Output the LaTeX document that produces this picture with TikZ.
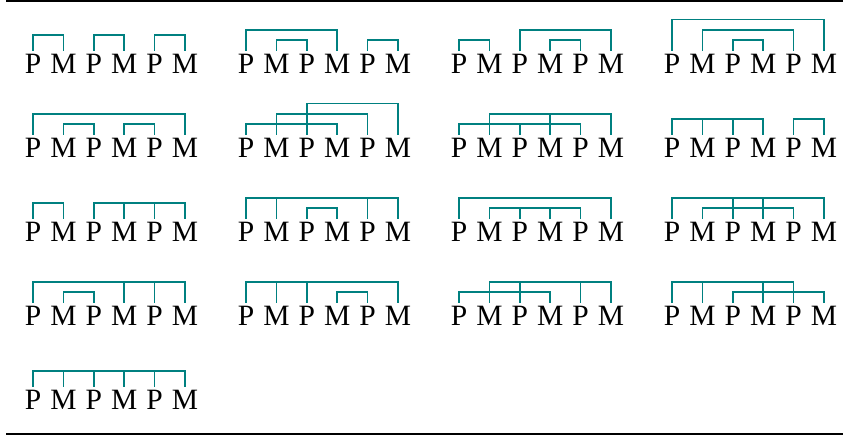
\documentclass[tikz,border=0pt]{standalone}
\usepackage{fontspec}
\setmainfont{Liberation Serif}
\newcommand\pmgroup[3]{%
  \foreach \i/\l in {1/P,2/M,3/P,4/M,5/P,6/M}{%
    \node[letter] (#1-\i) at ({#2+(\i-1)*30.4},#3) {\l};
    \coordinate (#1-t\i) at ({#2+(\i-1)*30.4},{#3+23.4});
  }}
\newcommand\pmbrk[4]{% group, height, first, last
  \draw[br] (#1-t#3) -- ++(0,#2) -| (#1-t#4);}
\newcommand\pmbrki[5]{% group, height, first, last, inner ticks
  \draw[br] (#1-t#3) -- ++(0,#2) -| (#1-t#4);
  \foreach \p in {#5}{\draw[br] (#1-t\p) -- ++(0,#2);}}
\def\LA{10.3}
\def\LB{20.7}
\def\LC{31}
\def\LS{15.3}
\begin{document}
\begin{tikzpicture}[x=1pt,y=1pt,
  letter/.style={anchor=base,inner sep=0pt,font=\fontsize{29.5}{32}\selectfont},
  br/.style={draw=teal,line width=1.7pt,line join=miter},
  rulestyle/.style={line width=2pt}]
\useasboundingbox (0,0) rectangle (846,436);
\coordinate (rl1) at (6,435);
\coordinate (rr1) at (843,435);
\coordinate (rl2) at (6,1.6);
\coordinate (rr2) at (843,1.6);
\draw[rulestyle] (rl1) -- (rr1);
\draw[rulestyle] (rl2) -- (rr2);
% row 1
\pmgroup{g1}{33}{362}
\pmgroup{g2}{246}{362}
\pmgroup{g3}{459}{362}
\pmgroup{g4}{672}{362}
% row 2
\pmgroup{g5}{33}{278}
\pmgroup{g6}{246}{278}
\pmgroup{g7}{459}{278}
\pmgroup{g8}{672}{278}
% row 3
\pmgroup{g9}{33}{194}
\pmgroup{g10}{246}{194}
\pmgroup{g11}{459}{194}
\pmgroup{g12}{672}{194}
% row 4
\pmgroup{g13}{33}{110}
\pmgroup{g14}{246}{110}
\pmgroup{g15}{459}{110}
\pmgroup{g16}{672}{110}
% row 5
\pmgroup{g17}{33}{26}
% brackets
\pmbrk{g1}{\LS}{1}{2}
\pmbrk{g1}{\LS}{3}{4}
\pmbrk{g1}{\LS}{5}{6}
\pmbrk{g2}{\LB}{1}{4}
\pmbrk{g2}{\LA}{2}{3}
\pmbrk{g2}{\LA}{5}{6}
\pmbrk{g3}{\LA}{1}{2}
\pmbrk{g3}{\LB}{3}{6}
\pmbrk{g3}{\LA}{4}{5}
\pmbrk{g4}{\LC}{1}{6}
\pmbrk{g4}{\LB}{2}{5}
\pmbrk{g4}{\LA}{3}{4}
\pmbrk{g5}{\LB}{1}{6}
\pmbrk{g5}{\LA}{2}{3}
\pmbrk{g5}{\LA}{4}{5}
\pmbrk{g6}{\LA}{1}{4}
\pmbrk{g6}{\LB}{2}{5}
\pmbrk{g6}{\LC}{3}{6}
\pmbrki{g7}{\LA}{1}{5}{3}
\pmbrki{g7}{\LB}{2}{6}{4}
\pmbrki{g8}{\LS}{1}{4}{2,3}
\pmbrk{g8}{\LS}{5}{6}
\pmbrk{g9}{\LS}{1}{2}
\pmbrki{g9}{\LS}{3}{6}{4,5}
\pmbrki{g10}{\LB}{1}{6}{2,5}
\pmbrk{g10}{\LA}{3}{4}
\pmbrk{g11}{\LB}{1}{6}
\pmbrki{g11}{\LA}{2}{5}{3,4}
\pmbrki{g12}{\LB}{1}{6}{3,4}
\pmbrk{g12}{\LA}{2}{5}
\pmbrki{g13}{\LB}{1}{6}{4,5}
\pmbrk{g13}{\LA}{2}{3}
\pmbrki{g14}{\LB}{1}{6}{2,3}
\pmbrk{g14}{\LA}{4}{5}
\pmbrki{g15}{\LB}{2}{6}{3,5}
\pmbrk{g15}{\LA}{1}{4}
\pmbrki{g16}{\LB}{1}{5}{2,4}
\pmbrk{g16}{\LA}{3}{6}
\pmbrki{g17}{\LS}{1}{6}{2,3,4,5}
\end{tikzpicture}
\end{document}
